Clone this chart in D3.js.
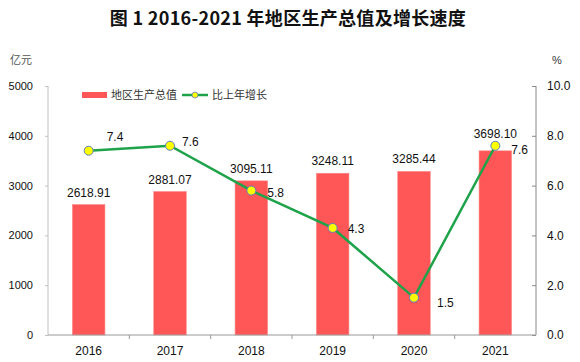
<!DOCTYPE html>
<html>
<head>
<meta charset="utf-8">
<script src="https://d3js.org/d3.v7.min.js"></script>
<title>图1 2016-2021年地区生产总值及增长速度</title>
<style>
  body { margin: 0; background: #fff; }
</style>
</head>
<body>
<div id="chart"></div>
<script type="text/javascript">

// data
var years  = ["2016", "2017", "2018", "2019", "2020", "2021"];
var gdp    = [2618.91, 2881.07, 3095.11, 3248.11, 3285.44, 3698.10];
var growth = [7.4, 7.6, 5.8, 4.3, 1.5, 7.6];
var leftTicks  = [0, 1000, 2000, 3000, 4000, 5000];
var rightTicks = [0, 2, 4, 6, 8, 10];

// where the growth labels sit relative to their point (dx, dy)
var growthLabelOffset = [[18, -10], [12, 0], [16, 6], [15, 5], [23, 9], [16, 8]];

var W = 580, H = 362;
var plotLeft = 48, plotRight = 536, plotTop = 86, plotBottom = 335;
var numFont = "'Liberation Sans', Arial, sans-serif";
var cjkFont = "'Noto Sans CJK SC', 'Noto Sans', sans-serif";

var svg = d3.select("#chart").append("svg")
    .attr("width", W)
    .attr("height", H);

var x = d3.scaleBand().domain(years).range([plotLeft, plotRight]).paddingInner(0).paddingOuter(0);
var yL = d3.scaleLinear().domain([0, 5000]).range([plotBottom, plotTop]);
var yR = d3.scaleLinear().domain([0, 10]).range([plotBottom, plotTop]);

// title
svg.append("text")
    .attr("x", 288).attr("y", 25)
    .attr("text-anchor", "middle")
    .style("font-family", cjkFont)
    .style("font-size", "18px")
    .style("font-weight", "bold")
    .style("letter-spacing", "0.3px")
    .style("fill", "#111")
    .text("图 1  2016-2021 年地区生产总值及增长速度");

// unit labels
svg.append("text").attr("x", 10).attr("y", 64)
    .style("font-family", cjkFont).style("font-size", "11px").style("fill", "#555")
    .text("亿元");
svg.append("text").attr("x", 552).attr("y", 64)
    .style("font-family", numFont).style("font-size", "11px").style("fill", "#333")
    .text("%");

// left axis
var gl = svg.append("g").attr("transform", "translate(" + plotLeft + ",0)")
    .call(d3.axisLeft(yL).tickValues(leftTicks).tickSize(3).tickPadding(12).tickFormat(d3.format("d")));
gl.select(".domain").attr("stroke", "#c0c0c0").attr("d", "M0," + plotTop + "V" + plotBottom);
gl.selectAll(".tick line").attr("stroke", "#c0c0c0");
gl.selectAll(".tick text").style("font-family", numFont).style("font-size", "11px").style("fill", "#111");

// right axis (ticks pointing inward)
var gr = svg.append("g").attr("transform", "translate(" + plotRight + ",0)")
    .call(d3.axisRight(yR).tickValues(rightTicks).tickSize(-4).tickPadding(11).tickFormat(d3.format(".1f")));
gr.select(".domain").attr("stroke", "#888").attr("d", "M0," + plotTop + "V" + plotBottom);
gr.selectAll(".tick line").attr("stroke", "#888");
gr.selectAll(".tick text").style("font-family", numFont).style("font-size", "12px").style("fill", "#111");

// bars
svg.selectAll("rect.bar")
    .data(gdp)
    .enter().append("rect")
    .attr("class", "bar")
    .attr("x", function (d, i) { return x(years[i]) + x.bandwidth() * 0.3; })
    .attr("width", x.bandwidth() * 0.4)
    .attr("y", function (d) { return yL(d); })
    .attr("height", function (d) { return plotBottom - yL(d); })
    .attr("fill", "#FF5757")
    .attr("stroke", "#FF8A8A")
    .attr("stroke-width", 0.6);

// bottom axis
var gb = svg.append("g").attr("transform", "translate(0," + plotBottom + ")");
gb.append("line").attr("x1", plotLeft).attr("x2", plotRight).attr("stroke", "#999");
gb.selectAll("line.tk")
    .data(years.slice(1))
    .enter().append("line")
    .attr("class", "tk")
    .attr("x1", function (d) { return x(d); })
    .attr("x2", function (d) { return x(d); })
    .attr("y1", 0).attr("y2", 4)
    .attr("stroke", "#999");
gb.selectAll("text")
    .data(years)
    .enter().append("text")
    .attr("x", function (d) { return x(d) + x.bandwidth() / 2; })
    .attr("y", 20)
    .attr("text-anchor", "middle")
    .style("font-family", numFont).style("font-size", "12px").style("fill", "#111")
    .text(function (d) { return d; });

// bar value labels
svg.selectAll("text.barlbl")
    .data(gdp)
    .enter().append("text")
    .attr("class", "barlbl")
    .attr("x", function (d, i) { return x(years[i]) + x.bandwidth() / 2; })
    .attr("y", function (d, i) { return yL(d) - (i === 5 ? 13 : 8); })
    .attr("text-anchor", "middle")
    .style("font-family", numFont).style("font-size", "12px").style("fill", "#111")
    .text(function (d) { return d.toFixed(2); });

// growth line
var line = d3.line()
    .x(function (d, i) { return x(years[i]) + x.bandwidth() / 2; })
    .y(function (d) { return yR(d); });

svg.append("path")
    .datum(growth)
    .attr("d", line)
    .attr("fill", "none")
    .attr("stroke", "#1EA34A")
    .attr("stroke-width", 2.5);

svg.selectAll("circle.pt")
    .data(growth)
    .enter().append("circle")
    .attr("class", "pt")
    .attr("cx", function (d, i) { return x(years[i]) + x.bandwidth() / 2; })
    .attr("cy", function (d) { return yR(d); })
    .attr("r", 4.5)
    .attr("fill", "#FFFF00")
    .attr("stroke", "#5B7FBF")
    .attr("stroke-width", 1);

svg.selectAll("text.gl")
    .data(growth)
    .enter().append("text")
    .attr("class", "gl")
    .attr("x", function (d, i) { return x(years[i]) + x.bandwidth() / 2 + growthLabelOffset[i][0]; })
    .attr("y", function (d, i) { return yR(d) + growthLabelOffset[i][1]; })
    .style("font-family", numFont).style("font-size", "12px").style("fill", "#111")
    .text(function (d) { return d.toFixed(1); });

// legend
var lg = svg.append("g");
lg.append("rect").attr("x", 82).attr("y", 92).attr("width", 25).attr("height", 6).attr("fill", "#FF5757");
lg.append("text").attr("x", 111).attr("y", 99)
    .style("font-family", cjkFont).style("font-size", "11px").style("fill", "#333")
    .text("地区生产总值");
lg.append("line").attr("x1", 182).attr("x2", 208).attr("y1", 95).attr("y2", 95)
    .attr("stroke", "#1EA34A").attr("stroke-width", 2.5);
lg.append("circle").attr("cx", 195).attr("cy", 95).attr("r", 3)
    .attr("fill", "#FFFF00").attr("stroke", "#5B7FBF").attr("stroke-width", 0.8);
lg.append("text").attr("x", 212).attr("y", 99)
    .style("font-family", cjkFont).style("font-size", "11px").style("fill", "#333")
    .text("比上年增长");

</script>
</body>
</html>
